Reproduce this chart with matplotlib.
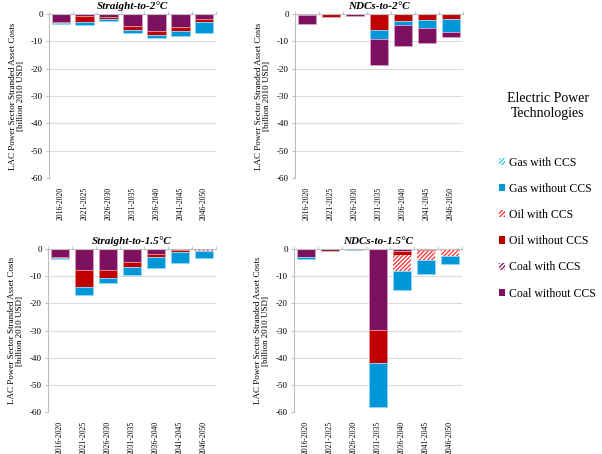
import matplotlib
matplotlib.use("Agg")
import matplotlib.pyplot as plt
from matplotlib.patches import Patch
import numpy as np

plt.rcParams['font.family'] = ['Liberation Serif', 'DejaVu Serif']
plt.rcParams['axes.unicode_minus'] = False
plt.rcParams['hatch.linewidth'] = 0.9

periods = ["2016-2020", "2021-2025", "2026-2030", "2031-2035",
           "2036-2040", "2041-2045", "2046-2050"]

# Straight-to-2°C (billion 2010 USD, negative = stranded cost)
s2_coal = [-3.1, -0.7, -1.2, -4.3, -6.2, -4.8, -1.9]
s2_oil = [-0.2, -2.4, -0.7, -1.5, -1.5, -1.3, -1.1]
s2_gas = [-0.4, -0.8, -0.6, -1.1, -1.0, -1.8, -3.8]

# NDCs-to-2°C
n2_oil = [0.0, -1.0, 0.0, -6.0, -2.7, -2.3, -1.8]
n2_gas = [-0.5, 0.0, 0.0, -3.0, -1.4, -2.9, -4.7]
n2_coal = [-3.3, 0.0, -0.6, -9.8, -7.7, -5.3, -2.0]

# Straight-to-1.5°C
s15_coal = [-3.0, -7.6, -7.8, -4.8, -1.7, -0.4, 0.0]
s15_oil = [-0.2, -6.3, -2.8, -2.0, -1.2, -0.7, 0.0]
s15_oil_ccs = [0.0, 0.0, 0.0, 0.0, 0.0, 0.0, -0.6]
s15_gas = [-0.4, -3.0, -1.9, -2.6, -4.0, -4.0, -2.7]

# NDCs-to-1.5°C
n15_coal = [-2.9, 0.0, 0.0, -29.9, -0.8, -0.5, -0.2]
n15_coal_ccs = [0.0, 0.0, -0.4, 0.0, 0.0, 0.0, 0.0]
n15_oil = [0.0, -0.9, 0.0, -12.2, -1.5, -0.3, 0.0]
n15_oil_ccs = [0.0, 0.0, 0.0, 0.0, -5.8, -3.2, -2.4]
n15_gas = [-0.6, 0.0, 0.0, -16.1, -7.0, -5.3, -3.0]

titles = ["Straight-to-2°C", "NDCs-to-2°C", "Straight-to-1.5°C", "NDCs-to-1.5°C"]
legend_labels = ["Gas with CCS", "Gas without CCS", "Oil with CCS",
                 "Oil without CCS", "Coal with CCS", "Coal without CCS"]

PURPLE = "#7E1060"
RED = "#C00000"
BLUE = "#0097D8"
LBLUE = "#25C6F2"

styles = {
    "gas_ccs": dict(facecolor="white", edgecolor=LBLUE, hatch="////////", linewidth=0),
    "gas": dict(facecolor=BLUE, edgecolor="#8fd8f5", linewidth=0.6),
    "oil_ccs": dict(facecolor="white", edgecolor="#FF3030", hatch="////////", linewidth=0),
    "oil": dict(facecolor=RED, edgecolor="#e89090", linewidth=0.6),
    "coal_ccs": dict(facecolor="white", edgecolor=PURPLE, hatch="////////", linewidth=0),
    "coal": dict(facecolor=PURPLE, edgecolor="#d8a0c8", linewidth=0.6),
}

panels = [
    [("coal", s2_coal), ("oil", s2_oil), ("gas", s2_gas)],
    [("oil", n2_oil), ("gas", n2_gas), ("coal", n2_coal)],
    [("coal", s15_coal), ("oil", s15_oil), ("oil_ccs", s15_oil_ccs), ("gas", s15_gas)],
    [("coal", n15_coal), ("coal_ccs", n15_coal_ccs), ("oil", n15_oil),
     ("oil_ccs", n15_oil_ccs), ("gas", n15_gas)],
]

W, H = 602, 454
fig = plt.figure(figsize=(W / 100, H / 100), dpi=100)

# axes rectangles in pixels: left, top(zero line), right, bottom(-60)
rects = [(49, 14, 216, 178), (295, 14, 463, 178),
         (48, 249, 216, 412), (294, 249, 462, 412)]

x = np.arange(len(periods))
for i, (l, t, r, b) in enumerate(rects):
    ax = fig.add_axes([l / W, 1 - b / H, (r - l) / W, (b - t) / H])
    bottom = np.zeros(len(periods))
    for key, vals in panels[i]:
        v = np.array(vals)
        ax.bar(x, v, width=0.78, bottom=bottom, zorder=3, **styles[key])
        bottom = bottom + v
    ax.set_xlim(-0.5, len(periods) - 0.5)
    ax.set_ylim(-60, 0)
    ax.set_yticks(np.arange(-60, 1, 10))
    ax.set_yticklabels([str(v) for v in range(-60, 1, 10)], fontsize=6.5)
    ax.yaxis.grid(True, color="#dcdcdc", linewidth=0.8, zorder=0)
    ax.set_axisbelow(True)
    ax.set_xticks(x)
    ax.set_xticklabels(periods, rotation=90, fontsize=5.5)
    ax.set_xticks(np.arange(-0.5, len(periods), 1.0), minor=True)
    ax.tick_params(axis="x", which="major", bottom=False, top=False,
                   labelbottom=True, pad=3)
    ax.tick_params(axis="x", which="minor", bottom=False, top=True,
                   length=2.5, color="#bfbfbf", direction="out")
    ax.tick_params(axis="y", length=2.5, color="#bfbfbf", pad=2)
    for s in ("bottom", "right"):
        ax.spines[s].set_visible(False)
    for s in ("left", "top"):
        ax.spines[s].set_color("#bfbfbf")
        ax.spines[s].set_linewidth(0.8)
    ax.spines["top"].set_zorder(4)
    ax.set_ylabel("LAC Power Sector Stranded Asset Costs\n[billion 2010 USD]",
                  fontsize=6.5, labelpad=4, linespacing=1.1)
    ax.set_title(titles[i], fontsize=8.0, fontweight="bold", style="italic", pad=3.5)

fig.text(548 / W, 1 - 106 / H, "Electric Power\nTechnologies", ha="center",
         va="center", fontsize=10, linespacing=1.3)

order = ["gas_ccs", "gas", "oil_ccs", "oil", "coal_ccs", "coal"]
handles = [Patch(**{k: v for k, v in styles[key].items() if k != "linewidth"},
                 linewidth=0) for key in order]
leg = fig.legend(handles, legend_labels, loc="upper left",
                 bbox_to_anchor=(494 / W, 1 - 152 / H), frameon=False,
                 fontsize=8.5, handlelength=0.55, handleheight=0.55,
                 handletextpad=0.35, labelspacing=1.2, borderaxespad=0)

fig.savefig("out.png", dpi=100)
